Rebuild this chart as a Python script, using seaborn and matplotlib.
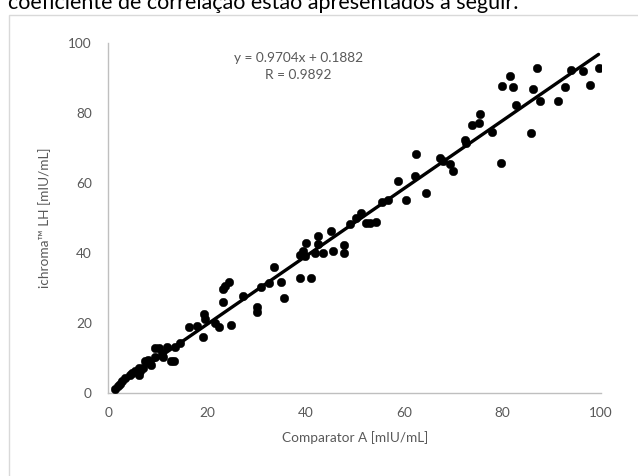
import numpy as np
import pandas as pd
import seaborn as sns
import matplotlib.pyplot as plt
from matplotlib.patches import Rectangle

# values
comparator_a = [1.3, 1.9, 2.3, 2.7, 3.4, 4.4, 4.7, 5.4, 6.1, 6.4, 6.1, 7.1, 7.4, 8.1, 8.6,
                9.4, 9.4, 10.3, 10.8, 11.1, 11.8, 12.6, 13.4, 13.5, 14.5, 16.3, 17.9, 19.2,
                19.3, 19.7, 21.6, 22.4, 24.9, 23.2, 23.2, 23.7, 24.4, 27.3, 30.1, 30.2, 31.0,
                32.5, 33.6, 35.1, 35.6, 38.9, 41.1, 38.9, 39.5, 40.0, 40.2, 41.9, 43.6, 42.5,
                42.5, 45.1, 45.5, 47.8, 47.8, 49.0, 50.2, 51.3, 52.3, 53.2, 54.3, 55.5, 56.8,
                58.8, 60.5, 62.3, 62.5, 64.5, 67.3, 67.9, 69.3, 69.9, 72.3, 72.5, 73.8, 75.2,
                75.5, 77.8, 79.6, 79.8, 81.5, 82.2, 82.8, 85.8, 86.1, 87.0, 87.6, 91.2, 92.7,
                94.0, 96.3, 97.8, 99.5]
ichroma_lh = [1.0, 2.0, 2.6, 3.5, 4.2, 5.2, 5.8, 6.4, 5.1, 6.3, 7.0, 7.1, 9.0, 9.4, 8.0,
              10.4, 12.8, 12.8, 11.5, 10.4, 13.0, 9.0, 9.2, 13.2, 14.2, 18.8, 19.2, 15.9,
              22.5, 21.1, 20.1, 18.8, 19.5, 26.0, 29.7, 30.6, 31.6, 27.8, 24.5, 23.1, 30.2,
              31.3, 35.9, 31.6, 27.1, 32.9, 32.9, 39.5, 40.6, 39.0, 42.8, 40.0, 39.9, 44.9,
              42.5, 46.4, 40.6, 42.3, 39.9, 48.3, 49.9, 51.5, 48.7, 48.5, 48.9, 54.7, 55.1,
              60.6, 55.1, 62.0, 68.4, 57.1, 67.2, 66.4, 65.4, 63.4, 72.2, 71.3, 76.6, 77.0,
              79.6, 74.7, 65.8, 87.8, 90.6, 87.5, 82.2, 74.2, 86.8, 92.9, 83.4, 83.3, 87.4,
              92.4, 92.0, 88.0, 92.8]
slope = 0.9704
intercept = 0.1882
r_value = 0.9892
ticks = [0, 20, 40, 60, 80, 100]

df = pd.DataFrame({'comparator': comparator_a, 'ichroma': ichroma_lh})
trend = pd.DataFrame({'x': [min(comparator_a), max(comparator_a)]})
trend['y'] = slope * trend['x'] + intercept

sns.set_style('white')
plt.rcParams['font.family'] = ['Lato', 'DejaVu Sans']
gray = '#595959'

fig = plt.figure(figsize=(6.38, 4.76), dpi=100)
ax = fig.add_axes([0.17, 0.1744, 0.772, 0.7353])

# outer chart frame and the cut-off sentence above it (cut off in the source too)
fig.patches.append(Rectangle((0.0135, -0.1), 1.1, 1.1 - 0.031, transform=fig.transFigure,
                             fill=False, edgecolor='#d9d9d9', linewidth=1.0))
fig.text(0.013, 0.981, 'coeficiente de correlação estão apresentados a seguir.',
         fontsize=15.5, color='black', va='baseline')

sns.scatterplot(data=df, x='comparator', y='ichroma', color='black', s=38,
                edgecolor='black', linewidth=0.3, ax=ax, zorder=3)
sns.lineplot(data=trend, x='x', y='y', color='black', linewidth=2.4, ax=ax, zorder=4)

ax.set_xlim(0, 100)
ax.set_ylim(0, 100)
ax.set_xticks(ticks)
ax.set_yticks(ticks)
ax.tick_params(axis='both', length=0, labelsize=9.8, labelcolor=gray)
ax.tick_params(axis='x', pad=10)
ax.tick_params(axis='y', pad=12)
for side in ['top', 'right']:
    ax.spines[side].set_visible(False)
for side in ['left', 'bottom']:
    ax.spines[side].set_color('#bfbfbf')
    ax.spines[side].set_linewidth(1.0)

ax.set_xlabel('Comparator A [mIU/mL]', fontsize=9.8, color=gray, labelpad=9)
ax.set_ylabel('ichroma™ LH [mIU/mL]', fontsize=9.8, color=gray, labelpad=12)

ax.text(38.5, 95.7, f'y = {slope}x + {intercept}', ha='center', va='center',
        fontsize=9.8, color=gray)
ax.text(38.5, 90.9, f'R = {r_value}', ha='center', va='center', fontsize=9.8, color=gray)

fig.savefig('out.png', dpi=100)
